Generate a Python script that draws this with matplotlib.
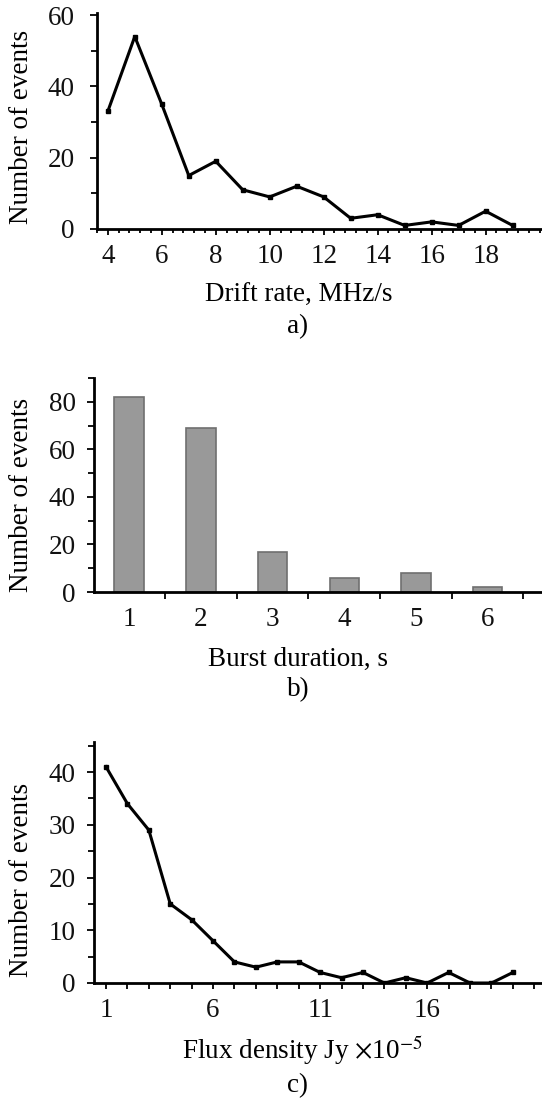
import matplotlib
matplotlib.use("Agg")
import matplotlib.pyplot as plt
from matplotlib.ticker import MultipleLocator, FixedLocator

# data
drift_rate = [4, 5, 6, 7, 8, 9, 10, 11, 12, 13, 14, 15, 16, 17, 18, 19]
drift_counts = [33, 54, 35, 15, 19, 11, 9, 12, 9, 3, 4, 1, 2, 1, 5, 1]

duration = [1, 2, 3, 4, 5, 6]
duration_counts = [82, 69, 17, 6, 8, 2]

flux = list(range(1, 21))
flux_counts = [41, 34, 29, 15, 12, 8, 4, 3, 4, 4, 2, 1, 2, 0, 1, 0, 2, 0, 0, 2]

plt.rcParams['font.family'] = ['Liberation Serif', 'DejaVu Serif']
plt.rcParams['mathtext.fontset'] = 'stix'
FS = 19.5
W, H = 542, 1099

fig = plt.figure(figsize=(W / 100, H / 100), dpi=100)


def box(left, top, right, bottom):
    return [left / W, 1 - bottom / H, (right - left) / W, (bottom - top) / H]


def style(ax, ypad):
    for s in ['top', 'right']:
        ax.spines[s].set_visible(False)
    for s in ['left', 'bottom']:
        ax.spines[s].set_linewidth(2.0)
        ax.spines[s].set_color('black')
    ax.tick_params(axis='both', which='both', direction='out', width=1.3,
                   color='black', labelsize=FS, labelcolor='#111111')
    ax.tick_params(axis='x', which='major', length=4, pad=7)
    ax.tick_params(axis='x', which='minor', length=3)
    ax.tick_params(axis='y', which='major', length=5, pad=ypad)
    ax.tick_params(axis='y', which='minor', length=4)


# ---- a) drift rate
ax1 = fig.add_axes(box(97, 13, 545, 229))
ax1.plot(drift_rate, drift_counts, color='black', lw=2.2, marker='s', ms=3.5)
ax1.set_xlim(3.6, 20.2)
ax1.set_ylim(0, 60.6)
ax1.xaxis.set_major_locator(FixedLocator([4, 6, 8, 10, 12, 14, 16, 18]))
ax1.xaxis.set_minor_locator(MultipleLocator(0.4))
ax1.yaxis.set_major_locator(MultipleLocator(20))
ax1.yaxis.set_minor_locator(MultipleLocator(10))
style(ax1, 11)

# ---- b) burst duration
ax2 = fig.add_axes(box(94, 378, 545, 592))
ax2.bar(duration, duration_counts, width=0.41, color='#999999',
        edgecolor='#6f6f6f', linewidth=1.2)
ax2.set_xlim(0.51, 6.8)
ax2.set_ylim(0, 90)
ax2.xaxis.set_major_locator(FixedLocator(duration))
ax2.xaxis.set_minor_locator(FixedLocator([0.5, 1.5, 2.5, 3.5, 4.5, 5.5, 6.5]))
ax2.yaxis.set_major_locator(MultipleLocator(20))
ax2.yaxis.set_minor_locator(MultipleLocator(10))
style(ax2, 8)
ax2.tick_params(axis='x', which='major', length=0, pad=11)
ax2.tick_params(axis='x', which='minor', length=5)

# ---- c) flux density
ax3 = fig.add_axes(box(94, 742, 545, 983))
ax3.plot(flux, flux_counts, color='black', lw=2.2, marker='s', ms=3.5)
ax3.set_xlim(0.44, 21.5)
ax3.set_ylim(0, 45.7)
ax3.xaxis.set_major_locator(FixedLocator([1, 6, 11, 16]))
ax3.xaxis.set_minor_locator(MultipleLocator(1))
ax3.yaxis.set_major_locator(MultipleLocator(10))
ax3.yaxis.set_minor_locator(MultipleLocator(5))
style(ax3, 8)
ax3.tick_params(axis='x', which='minor', length=4)

# labels
for yc in [127, 495, 880]:
    fig.text(22 / W, 1 - yc / H, 'Number of events', rotation=90,
             ha='center', va='center', fontsize=FS)

fig.text(299 / W, 1 - 295 / H, 'Drift rate, MHz/s', ha='center', va='center', fontsize=FS)
fig.text(298 / W, 1 - 327 / H, 'a)', ha='center', va='center', fontsize=FS)
fig.text(298 / W, 1 - 659 / H, 'Burst duration, s', ha='center', va='center', fontsize=FS)
fig.text(298 / W, 1 - 690 / H, 'b)', ha='center', va='center', fontsize=FS)
fig.text(302 / W, 1 - 1050 / H, r'Flux density Jy $\times$10$^{-5}$', ha='center', va='center', fontsize=FS)
fig.text(298 / W, 1 - 1086 / H, 'c)', ha='center', va='center', fontsize=FS)

fig.savefig('out.png', dpi=100)
